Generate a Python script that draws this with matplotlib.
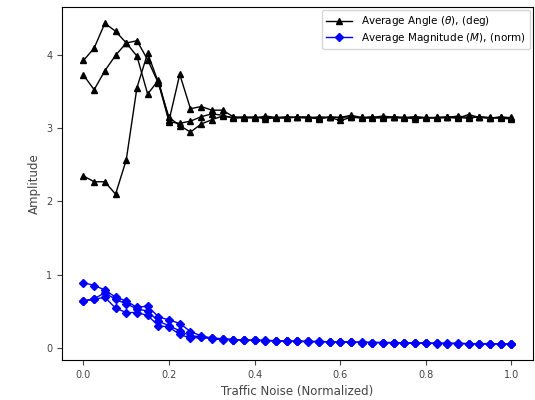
import numpy as np
from matplotlib import pyplot as plt

# noise levels, 0.0 .. 1.0 in steps of 0.025
noise = np.linspace(0, 1, 41)

# average angle, three runs
angle_a = [3.93, 4.10, 4.44, 4.33, 4.17, 3.99, 3.47, 3.66, 3.11, 3.74, 3.27, 3.30, 3.25, 3.25,
           3.16, 3.15, 3.14, 3.17, 3.15, 3.16, 3.15, 3.14, 3.16, 3.15, 3.15, 3.16, 3.14, 3.15,
           3.17, 3.15, 3.14, 3.16, 3.15, 3.15, 3.16, 3.15, 3.14, 3.16, 3.15, 3.14, 3.13]
angle_b = [3.73, 3.53, 3.79, 4.00, 4.17, 4.20, 3.94, 3.62, 3.15, 3.04, 2.95, 3.06, 3.12, 3.17,
           3.15, 3.14, 3.16, 3.13, 3.15, 3.14, 3.16, 3.15, 3.13, 3.16, 3.15, 3.18, 3.15, 3.14,
           3.15, 3.16, 3.15, 3.13, 3.15, 3.14, 3.15, 3.17, 3.15, 3.16, 3.14, 3.15, 3.15]
angle_c = [2.35, 2.27, 2.27, 2.10, 2.57, 3.56, 4.03, 3.63, 3.09, 3.07, 3.10, 3.16, 3.20, 3.18,
           3.14, 3.16, 3.15, 3.15, 3.14, 3.15, 3.15, 3.16, 3.14, 3.15, 3.11, 3.15, 3.15, 3.16,
           3.14, 3.15, 3.15, 3.16, 3.14, 3.15, 3.15, 3.14, 3.19, 3.15, 3.14, 3.16, 3.14]

# average magnitude, three runs
mag_a = [0.89, 0.85, 0.79, 0.69, 0.64, 0.55, 0.57, 0.42, 0.38, 0.33, 0.22, 0.16, 0.13, 0.12,
         0.11, 0.105, 0.10, 0.10, 0.095, 0.09, 0.09, 0.085, 0.085, 0.08, 0.08, 0.075, 0.075, 0.07,
         0.07, 0.07, 0.065, 0.065, 0.06, 0.06, 0.06, 0.06, 0.055, 0.055, 0.055, 0.05, 0.05]
mag_b = [0.64, 0.67, 0.75, 0.66, 0.60, 0.53, 0.50, 0.36, 0.30, 0.23, 0.16, 0.15, 0.13, 0.12,
         0.11, 0.10, 0.10, 0.095, 0.095, 0.09, 0.085, 0.085, 0.08, 0.08, 0.08, 0.075, 0.07, 0.07,
         0.07, 0.065, 0.065, 0.06, 0.06, 0.06, 0.055, 0.055, 0.055, 0.05, 0.05, 0.05, 0.05]
mag_c = [0.64, 0.66, 0.69, 0.54, 0.48, 0.48, 0.44, 0.30, 0.28, 0.18, 0.13, 0.14, 0.12, 0.11,
         0.105, 0.10, 0.10, 0.095, 0.09, 0.09, 0.085, 0.08, 0.08, 0.08, 0.075, 0.075, 0.07, 0.07,
         0.065, 0.065, 0.06, 0.06, 0.06, 0.055, 0.055, 0.055, 0.05, 0.05, 0.05, 0.05, 0.05]

fig = plt.figure(figsize=(5.35, 4.0), dpi=100)
ax = fig.add_axes([0.116, 0.1, 0.88, 0.882])

ax.plot(noise, angle_a, color='black', marker='^', markersize=4, linewidth=1,
        label=r'Average Angle ($\theta$), (deg)')
ax.plot(noise, angle_b, color='black', marker='^', markersize=4, linewidth=1)
ax.plot(noise, angle_c, color='black', marker='^', markersize=4, linewidth=1)

ax.plot(noise, mag_a, color='blue', marker='D', markersize=4.5, linewidth=1,
        label=r'Average Magnitude ($M$), (norm)')
ax.plot(noise, mag_b, color='blue', marker='D', markersize=4.5, linewidth=1)
ax.plot(noise, mag_c, color='blue', marker='D', markersize=4.5, linewidth=1)

ax.set_xticks([0.0, 0.2, 0.4, 0.6, 0.8, 1.0])
ax.set_yticks([0, 1, 2, 3, 4])
ax.tick_params(labelsize=7, colors='#444444')
ax.set_xlabel('Traffic Noise (Normalized)', fontsize=8.5, color='#444444')
ax.set_ylabel('Amplitude', fontsize=8.5, color='#444444')
ax.legend(loc='upper right', fontsize=7.5, handlelength=2.5, borderaxespad=0.3,
          labelspacing=0.2)

plt.savefig('out.png', dpi=100)
